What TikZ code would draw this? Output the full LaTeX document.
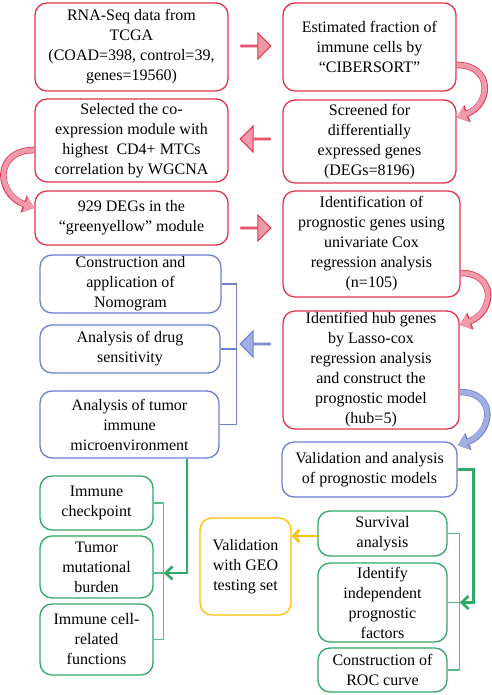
\documentclass[tikz,border=0pt]{standalone}
\usepackage{fontspec}
\setmainfont{Liberation Serif}
\newfontfamily\boxfont{Liberation Serif}
\usetikzlibrary{math,calc,shapes.arrows,arrows.meta}

\definecolor{redline}{HTML}{E2344E}
\definecolor{redfill}{HTML}{F09AAA}
\definecolor{blueline}{HTML}{6C7FD0}
\definecolor{bluefill}{HTML}{A3AEE0}
\definecolor{greenline}{HTML}{31A867}
\definecolor{yellowline}{HTML}{FFC000}

\tikzset{
  box/.style={rounded corners=12pt, line width=1.3pt, fill=white, align=center,
    inner sep=1pt, font=\boxfont\fontsize{16}{20}\selectfont},
  redbox/.style={box, draw=redline},
  bluebox/.style={box, draw=blueline},
  greenbox/.style={box, draw=greenline},
  yellowbox/.style={box, draw=yellowline},
  fatarrow/.style={single arrow, single arrow head extend=7pt, minimum height=30pt,
    minimum width=26pt, inner sep=0pt, line width=1pt},
  redarrow/.style={fatarrow, draw=redline, fill=redfill},
  bluearrow/.style={fatarrow, draw=blueline, fill=bluefill},
  redbend/.style={line width=5pt, draw=redfill, -{Triangle[width=15pt,length=10pt]},
    preaction={draw=redline, line width=6.5pt, -{Triangle[width=17.5pt,length=11.5pt]}}},
  bluebend/.style={line width=5pt, draw=bluefill, -{Triangle[width=15pt,length=10pt]},
    preaction={draw=blueline, line width=6.5pt, -{Triangle[width=17.5pt,length=11.5pt]}}},
  brkline/.style={draw=greenline!80, line width=1.1pt},
  bluebrk/.style={draw=blueline, line width=1.1pt},
  greenarrow/.style={draw=greenline, line width=2.6pt, -{Straight Barb[length=7pt,width=13pt]}},
  yellowarrow/.style={draw=yellowline, line width=2.4pt, -{Straight Barb[length=6pt,width=12pt]}}
}

\begin{document}
\begin{tikzpicture}[x=1pt, y=1pt]
  \tikzmath{\lx = 131.5;}
  \tikzmath{\rx = 369.5;}
  \tikzmath{\mx = 255.5;}
  \useasboundingbox (0,0) rectangle (491,695);

  % red workflow, left and right columns
  \node[redbox, minimum width=193pt, minimum height=88pt] (rna) at (\lx,648)
    {RNA-Seq data from\\TCGA\\(COAD=398, control=39,\\genes=19560)};
  \node[redbox, minimum width=173pt, minimum height=88pt] (cibersort) at (\rx,648)
    {Estimated fraction of\\immune cells by\\“CIBERSORT”};
  \node[redbox, minimum width=193pt, minimum height=83pt] (wgcna) at (\lx,554.5)
    {Selected the co-\\expression module with\\highest\ \ CD4+ MTCs\\correlation by WGCNA};
  \node[redbox, minimum width=173pt, minimum height=83pt] (degs) at (\rx,553.5)
    {Screened for\\differentially\\expressed genes\\(DEGs=8196)};
  \node[redbox, minimum width=193pt, minimum height=54pt] (module) at (\lx,477)
    {929 DEGs in the\\“greenyellow” module};
  \node[redbox, minimum width=177pt, minimum height=106pt] (cox) at (371.5,451)
    {Identification of\\prognostic genes using\\univariate Cox\\regression analysis\\(n=105)};
  \node[redbox, minimum width=176pt, minimum height=118pt] (hub) at (371,325)
    {Identified hub genes\\by Lasso-cox\\regression analysis\\and construct the\\prognostic model\\(hub=5)};

  % blue analyses
  \node[bluebox, minimum width=181pt, minimum height=58pt] (nomo) at (130.5,411)
    {Construction and\\application of\\Nomogram};
  \node[bluebox, minimum width=180pt, minimum height=48pt] (drug) at (130,346)
    {Analysis of drug\\sensitivity};
  \node[bluebox, minimum width=179pt, minimum height=67pt] (tme) at (129.5,270.5)
    {Analysis of tumor\\immune\\microenvironment};
  \node[bluebox, minimum width=175pt, minimum height=55pt] (valid) at (\rx,225.5)
    {Validation and analysis\\of prognostic models};

  % green and yellow boxes
  \node[greenbox, minimum width=113pt, minimum height=54pt] (checkpt) at (96.5,192)
    {Immune\\checkpoint};
  \node[greenbox, minimum width=113pt, minimum height=62pt] (tmb) at (96.5,128)
    {Tumor\\mutational\\burden};
  \node[greenbox, minimum width=113pt, minimum height=71pt] (cellfn) at (96.5,55.5)
    {Immune cell-\\related\\functions};
  \node[yellowbox, minimum width=91pt, minimum height=97pt] (geo) at (245.5,128.5)
    {Validation\\with GEO\\testing set};
  \node[greenbox, minimum width=129pt, minimum height=45pt] (surv) at (382.5,161.5)
    {Survival\\analysis};
  \node[greenbox, minimum width=129pt, minimum height=79pt] (indep) at (382.5,92.5)
    {Identify\\independent\\prognostic\\factors};
  \node[greenbox, minimum width=129pt, minimum height=44pt] (roc) at (382.5,25)
    {Construction of\\ROC curve};

  % block arrows between columns
  \node[redarrow] (ar1) at (\mx,649) {};
  \node[redarrow, shape border rotate=180] (ar2) at (\mx,556) {};
  \node[redarrow] (ar3) at (\mx,467) {};
  \node[bluearrow, shape border rotate=180] (ar4) at (\mx,351) {};

  % bent arrows down the sides
  \draw[redbend] ([yshift=-18pt]cibersort.east) to[out=0, in=20, looseness=1.8] ([yshift=24pt]degs.east);
  \draw[redbend] ([yshift=-9.5pt]wgcna.west) to[out=180, in=160, looseness=1.8] ([yshift=10pt]module.west);
  \draw[redbend] ([yshift=-29pt]cox.east) to[out=0, in=20, looseness=1.8] ([yshift=45pt]hub.east);
  \draw[bluebend] ([yshift=-22pt]hub.east) to[out=0, in=20, looseness=1.8] ([yshift=24pt]valid.east);

  % blue bracket
  \coordinate (bbrk) at ($(drug.east)+(16,0)$);
  \draw[bluebrk] (nomo.east) -| (bbrk) |- (tme.east);
  \draw[bluebrk] (drug.east) -- (bbrk);

  % green bracket, immune side
  \coordinate (tmbout) at ([yshift=-6pt]tmb.east);
  \coordinate (lbrk) at ($(tmbout)+(10,0)$);
  \draw[brkline] (checkpt.east) -| (lbrk) |- (cellfn.east);
  \draw[brkline] (tmbout) -- (lbrk);
  \draw[greenarrow] ([xshift=57.5pt]tme.south) |- (lbrk);

  % green bracket, validation side
  \coordinate (rbrk) at ($(indep.east)+(12,0)$);
  \draw[brkline] (surv.east) -| (rbrk) |- (roc.east);
  \draw[brkline] (indep.east) -- (rbrk);
  \draw[greenarrow] (valid.east) -- ++(16,0) |- (rbrk);

  % GEO validation
  \coordinate (survin) at ([yshift=-2.5pt]surv.west);
  \draw[yellowarrow] (survin) -- (survin -| geo.east);
\end{tikzpicture}
\end{document}
